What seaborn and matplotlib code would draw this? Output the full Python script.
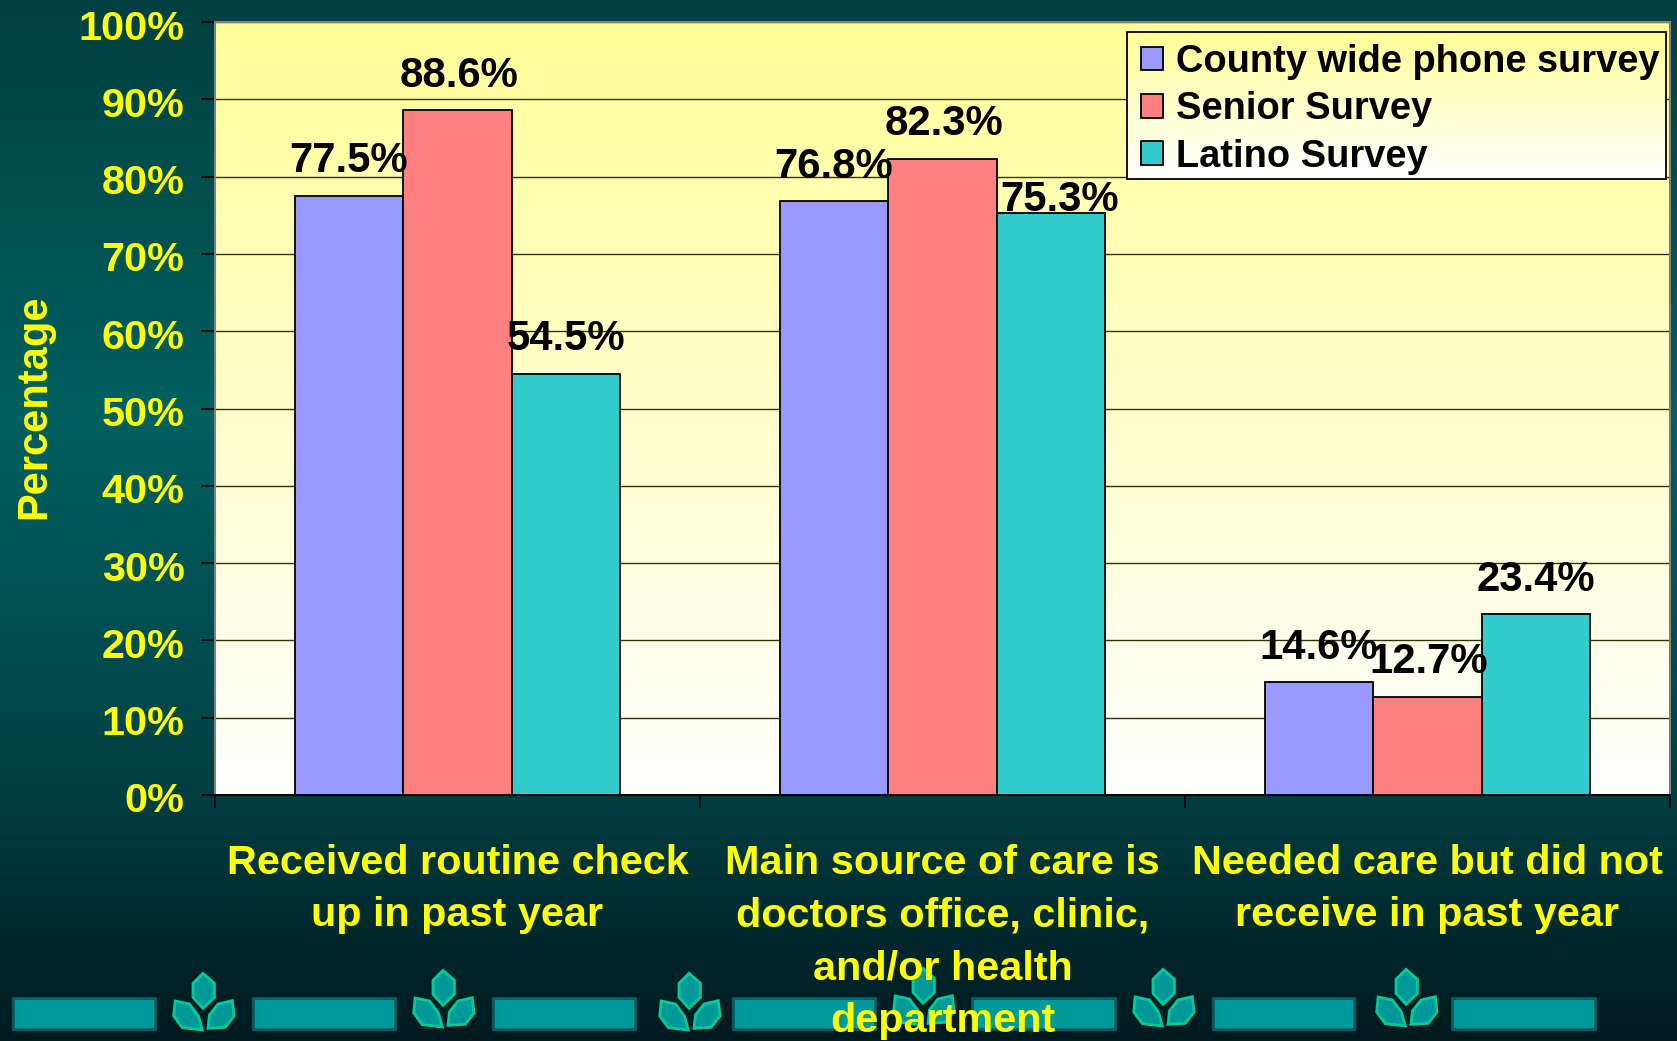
import numpy as np
import pandas as pd
import matplotlib
matplotlib.use("Agg")
import matplotlib.pyplot as plt
from matplotlib.colors import LinearSegmentedColormap
from matplotlib.patches import Polygon, Rectangle
import seaborn as sns

categories = ["Received routine check\nup in past year",
              "Main source of care is\ndoctors office, clinic,\nand/or health\ndepartment",
              "Needed care but did not\nreceive in past year"]
county = [77.5, 76.8, 14.6]
senior = [88.6, 82.3, 12.7]
latino = [54.5, 75.3, 23.4]
series_names = ["County wide phone survey", "Senior Survey", "Latino Survey"]
series_colors = ["#9999FF", "#FF8080", "#33CCCC"]
y_ticks = list(range(0, 101, 10))

W, H = 1677, 1041
sns.set_theme(style="white")
plt.rcParams["font.family"] = ["Liberation Sans", "DejaVu Sans"]
plt.rcParams["font.weight"] = "bold"

fig = plt.figure(figsize=(W / 100, H / 100), dpi=100)

# page background
bg = fig.add_axes([0, 0, 1, 1], zorder=-2)
bg.set_xlim(0, W); bg.set_ylim(H, 0); bg.axis("off")
bg_cmap = LinearSegmentedColormap.from_list("bg", [(0, "#004040"), (0.4, "#006060"), (0.72, "#004448"), (1, "#001A1E")])
bg.imshow(np.linspace(0, 1, 256)[:, None], cmap=bg_cmap, aspect="auto", extent=[0, W, H, 0], zorder=0)

# footer ornaments
for x0, x1 in [(13, 155), (253, 395), (493, 635), (733, 875), (972, 1115), (1213, 1354), (1452, 1595)]:
    bg.add_patch(Rectangle((x0, 998), x1 - x0, 31, fc="#009999", ec="#006066", lw=2, zorder=1))
top_leaf = [(568, 100), (600, 130), (600, 172), (568, 205), (540, 172), (540, 130)]
left_leaf = [(490, 183), (530, 192), (555, 228), (566, 270), (510, 263), (486, 228)]
right_leaf = [(650, 182), (655, 228), (630, 262), (582, 265), (586, 225), (610, 192)]
for cx, dy in [(203, 0), (443, -3), (689, 0), (923, -5), (1163, -4), (1406, -4)]:
    for leaf in (top_leaf, left_leaf, right_leaf):
        pts = [(cx + (px - 568) / 2.8, 940 + py / 3 + dy) for px, py in leaf]
        bg.add_patch(Polygon(pts, closed=True, fc="#009999", ec="#00CC99", lw=2, zorder=1))

# chart
left, right, top, bottom = 215, 1670, 22, 795
ax = fig.add_axes([left / W, 1 - bottom / H, (right - left) / W, (bottom - top) / H], zorder=1)
df = pd.DataFrame({
    "category": categories * 3,
    "series": sum([[n] * 3 for n in series_names], []),
    "value": county + senior + latino,
})
sns.barplot(data=df, x="category", y="value", hue="series", hue_order=series_names,
            palette=series_colors, width=0.672, gap=0, saturation=1,
            edgecolor="black", linewidth=1.3, ax=ax, zorder=3)

plot_cmap = LinearSegmentedColormap.from_list("plot", ["#FFFF99", "#FFFFFF"])
ax.imshow(np.linspace(0, 1, 256)[:, None], cmap=plot_cmap, aspect="auto",
          extent=[0, 1, 0, 1], transform=ax.transAxes, zorder=0)

ax.set_yticks(y_ticks)
ax.set_yticklabels([f"{v}%" for v in y_ticks], fontsize=29.8, color="#FFFF00", fontweight="bold")
ax.yaxis.grid(True, color="#333300", lw=1)
ax.set_axisbelow(True)
ax.tick_params(axis="y", direction="out", length=10, width=1.2, color="black", pad=12, left=True)
for lab in ax.get_yticklabels():
    lab.set_verticalalignment("top")
    lab.set_transform(lab.get_transform() + matplotlib.transforms.ScaledTranslation(0, 9 / 72, fig.dpi_scale_trans))

ax.set_xticks([0, 1, 2])
ax.set_xticklabels(categories, fontsize=29.8, color="#FFFF00", fontweight="bold", linespacing=1.49)
ax.set_xticks([-0.5, 0.5, 1.5, 2.5], minor=True)
ax.tick_params(axis="x", which="major", length=0, pad=35)
ax.tick_params(axis="x", which="minor", direction="out", length=9, width=1.2, color="black", bottom=True)
ax.set_xlabel("")
ax.set_ylabel("")
fig.text(34 / W, 1 - 407 / H, "Percentage", rotation=90, color="#FFFF00", fontsize=30,
         fontweight="bold", ha="center", va="center")

for s in ["top", "right", "left"]:
    ax.spines[s].set_color("#808080"); ax.spines[s].set_linewidth(1.5)
ax.spines["bottom"].set_color("black"); ax.spines["bottom"].set_linewidth(1.4)

for c_i, cont in enumerate(ax.containers):
    labels = ax.bar_label(cont, fmt="%.1f%%", fontsize=30.2, color="black", fontweight="bold", padding=10.5, zorder=6)
    if c_i == 1:
        for lab in labels:
            lab.xyann = (1.2, 10.5)
    if c_i == 2:
        labels[1].xyann = (6, -5)

# legend, with its own yellow-to-white fill
lx0, lx1, ly0, ly1 = (1127 - left) / (right - left), (1666 - left) / (right - left), \
    (bottom - 179) / (bottom - top), (bottom - 32) / (bottom - top)
ax.imshow(np.linspace(0, 1, 64)[:, None], cmap=plot_cmap, aspect="auto",
          extent=[lx0, lx1, ly0, ly1], transform=ax.transAxes, zorder=4.5)
ax.add_patch(Rectangle((lx0, ly0), lx1 - lx0, ly1 - ly0, transform=ax.transAxes,
                       fc="none", ec="black", lw=1.3, zorder=4.6))
ax.set_xlim(-0.5, 2.5)
ax.set_ylim(0, 100)
leg = ax.legend(title=None, loc="upper left", bbox_to_anchor=(lx0 + 0.001, ly1 + 0.001),
                borderaxespad=0, fontsize=27.4, frameon=False,
                handlelength=0.58, handleheight=0.58, handletextpad=0.34,
                labelspacing=0.3, borderpad=0.33)
leg.set_zorder(7)
for t in leg.get_texts():
    t.set_color("black"); t.set_fontweight("bold")

fig.savefig("out.png", dpi=100, facecolor=fig.get_facecolor())
